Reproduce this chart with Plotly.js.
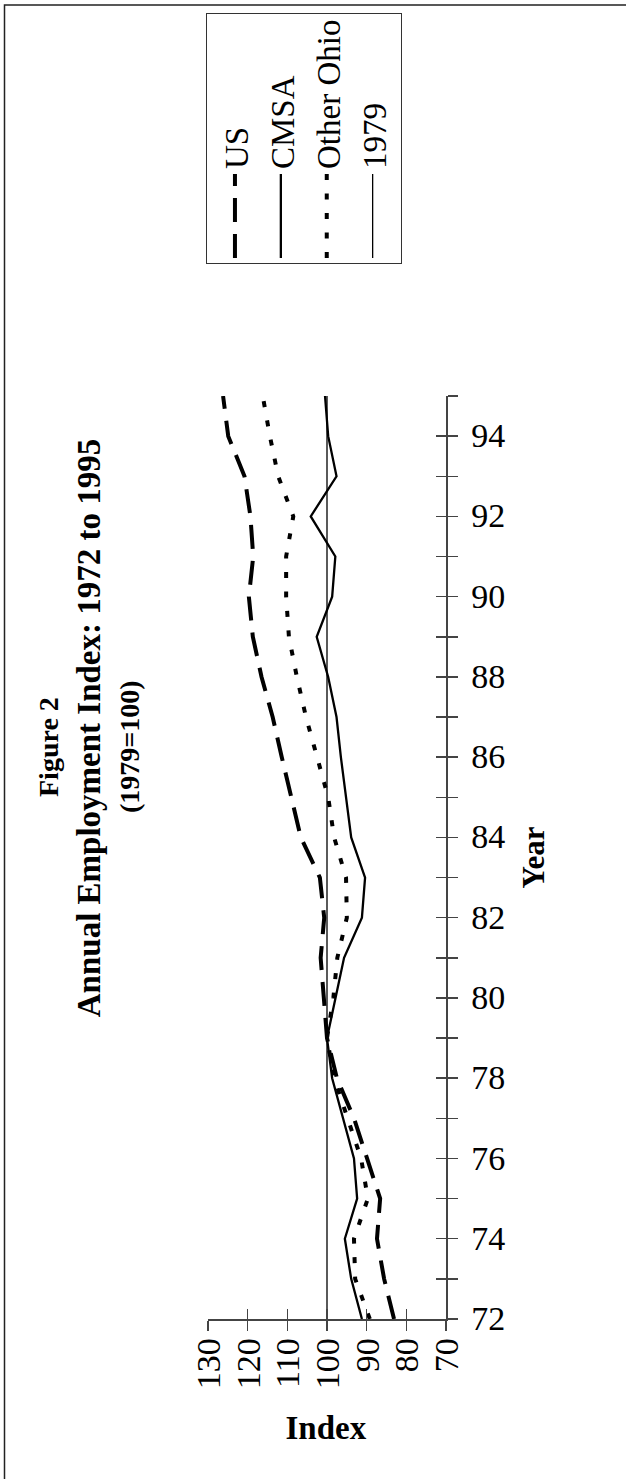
<!DOCTYPE html>
<html>
<head>
<meta charset="utf-8">
<script src="https://cdn.plot.ly/plotly-3.0.1.min.js"></script>
<style>
html,body{margin:0;padding:0;width:626px;height:1479px;overflow:hidden;background:#fff;}
#chart{position:absolute;left:0;top:0;width:1479px;height:626px;transform-origin:0 0;transform:translateY(1479px) rotate(-90deg);}
</style>
</head>
<body>
<div id="chart"></div>
<script>
// ---- data ----
const years = [72,73,74,75,76,77,78,79,80,81,82,83,84,85,86,87,88,89,90,91,92,93,94,95];
const us = [83.1,85.6,87.4,86.6,89.9,93.2,97.5,100,100.8,101.6,100.7,101.8,106.6,109.1,111.4,113.7,116.5,118.7,119.7,118.6,119.3,120.8,124.9,126.2];
const cmsa = [91.2,93.9,95.5,92.4,93.2,96.0,98.7,100,97.8,95.7,91.2,90.4,93.9,95.2,96.5,97.6,99.7,102.6,98.7,97.9,104.1,97.6,99.7,100.5];
const otherOhio = [89.2,92.9,93.2,89.7,91.4,94.7,98.2,100,98.4,97.4,95.0,95.2,98.2,99.7,102.5,105.3,107.6,109.6,110.3,110.3,108.5,112.3,114.4,116.2];
const base1979 = [100,100,100,100,100,100,100,100,100,100,100,100,100,100,100,100,100,100,100,100,100,100,100,100];
const yearTickVals = [72,73,74,75,76,77,78,79,80,81,82,83,84,85,86,87,88,89,90,91,92,93,94,95];
const yearTickText = ['72','','74','','76','','78','','80','','82','','84','','86','','88','','90','','92','','94',''];
const indexTickVals = [70,80,90,100,110,120,130];
const indexTickText = ['70','80','90','100','110','120','130'];
const seriesNames = ['US','CMSA','Other Ohio','1979'];

// ---- geometry of the (unrotated) figure ----
const W = 1479, H = 626, L = 160, R = 396, T = 208, B = 180;
const pw = W - L - R, ph = H - T - B;
const px2x = u => (u - L) / pw;
const px2y = v => (H - B - v) / ph;

const FONT = 'Liberation Serif, Times New Roman, serif';
const AX = '#444';

const traces = [
  {x: years, y: us, name: seriesNames[0], mode: 'lines', legendgroup: 'a',
   line: {color: '#000', width: 4, dash: '24px,12px'}},
  {x: years, y: cmsa, name: seriesNames[1], mode: 'lines', legendgroup: 'b',
   line: {color: '#000', width: 2.3}},
  {x: years, y: otherOhio, name: seriesNames[2], mode: 'lines', legendgroup: 'c',
   line: {color: '#000', width: 4, dash: '6px,13.5px'}},
  {x: years, y: base1979, name: seriesNames[3], mode: 'lines', legendgroup: 'd',
   xaxis: 'x2', yaxis: 'y2', line: {color: '#000', width: 1.3}}
];

const layout = {
  width: W, height: H,
  margin: {l: L, r: R, t: T, b: B, pad: 0},
  paper_bgcolor: '#fff', plot_bgcolor: '#fff',
  font: {family: FONT, color: '#000'},
  showlegend: true,
  title: {
    text: 'Annual Employment Index: 1972 to 1995',
    font: {family: FONT, size: 33, weight: 'bold', color: '#000'},
    xref: 'container', yref: 'container',
    x: 751 / W, xanchor: 'center', y: 1 - 88 / H, yanchor: 'middle'
  },
  xaxis: {
    range: [72, 95], tickmode: 'array', tickvals: yearTickVals, ticktext: yearTickText,
    tickangle: 90, ticks: 'outside', ticklen: 10, tickwidth: 1.5, tickcolor: AX,
    showline: true, linecolor: AX, linewidth: 1.5, showgrid: false, zeroline: false,
    tickfont: {family: FONT, size: 34, color: '#000'}, ticklabelstandoff: 7,
    title: {text: 'Year', font: {family: FONT, size: 31, weight: 'bold', color: '#000'}, standoff: 18},
    automargin: false, fixedrange: true
  },
  yaxis: {
    range: [70, 130], tickmode: 'array', tickvals: indexTickVals, ticktext: indexTickText,
    ticks: 'outside', ticklen: 10, tickwidth: 1.5, tickcolor: AX,
    showline: true, linecolor: AX, linewidth: 1.5, showgrid: false, zeroline: false,
    tickfont: {family: FONT, size: 34, color: '#000'}, ticklabelstandoff: 1,
    automargin: false, fixedrange: true
  },
  xaxis2: {
    overlaying: 'x', anchor: 'y2', range: [72, 95], tickmode: 'array', tickvals: yearTickVals,
    ticks: 'inside', ticklen: 10, tickwidth: 1.5, tickcolor: AX, showticklabels: false,
    showline: false, showgrid: false, zeroline: false, fixedrange: true
  },
  yaxis2: {
    overlaying: 'y', anchor: 'x2', side: 'left', range: [70, 130], tickmode: 'array', tickvals: indexTickVals,
    ticks: 'inside', ticklen: 10, tickwidth: 1.5, tickcolor: AX, showticklabels: false,
    showline: false, showgrid: false, zeroline: false, fixedrange: true
  },
  legend: {
    x: px2x(1215), y: px2y(206), xanchor: 'left', yanchor: 'top',
    bgcolor: '#fff', bordercolor: '#333', borderwidth: 1,
    font: {family: FONT, size: 33, color: '#000'},
    itemwidth: 84, tracegroupgap: 6, orientation: 'v', traceorder: 'normal'
  },
  annotations: [
    {text: 'Figure 2', xref: 'paper', yref: 'paper', x: px2x(731.5), y: px2y(48),
     xanchor: 'center', yanchor: 'middle', showarrow: false,
     font: {family: FONT, size: 28, weight: 'bold', color: '#000'}},
    {text: '(1979=100)', xref: 'paper', yref: 'paper', x: px2x(732), y: px2y(129),
     xanchor: 'center', yanchor: 'middle', showarrow: false,
     font: {family: FONT, size: 28, weight: 'bold', color: '#000'}},
    {text: 'Index', xref: 'paper', yref: 'paper', x: px2x(52), y: px2y(325.5),
     xanchor: 'center', yanchor: 'middle', showarrow: false, textangle: 90,
     font: {family: FONT, size: 33, weight: 'bold', color: '#000'}}
  ],
  shapes: [
    {type: 'rect', xref: 'paper', yref: 'paper',
     x0: px2x(-20), x1: px2x(1474), y0: px2y(700), y1: px2y(4.5),
     line: {color: '#222', width: 1.5}, fillcolor: 'rgba(0,0,0,0)'}
  ]
};

Plotly.newPlot('chart', traces, layout, {staticPlot: true, displayModeBar: false});
</script>
</body>
</html>
